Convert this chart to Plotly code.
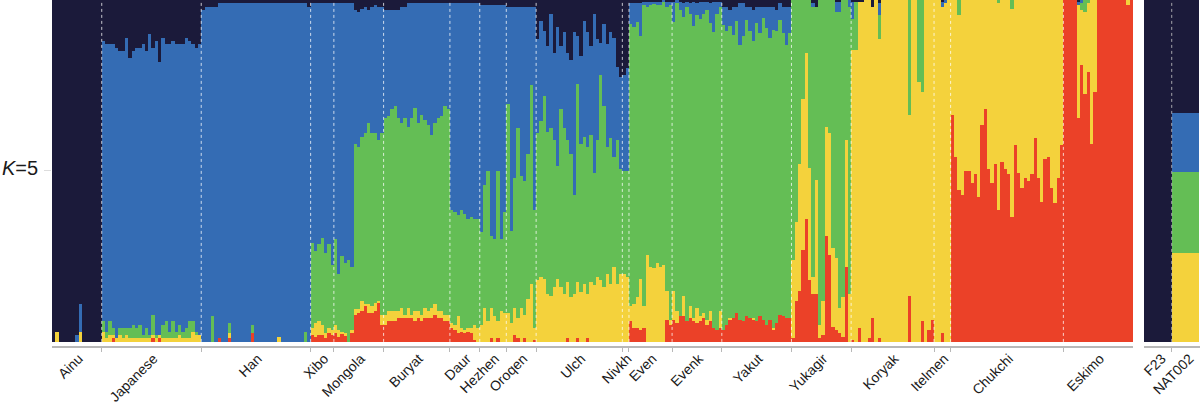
import numpy as np
import plotly.graph_objects as go

# ADMIXTURE K=5, one bar per individual, values in percent
POPS = ["Ainu", "Japanese", "Han", "Xibo", "Mongola", "Buryat", "Daur", "Hezhen",
        "Oroqen", "Ulch", "Nivkh", "Even", "Evenk", "Yakut", "Yukagir", "Koryak",
        "Itelmen", "Chukchi", "Eskimo"]
SIZES = [15, 30, 33, 7, 15, 20, 9, 8, 9, 26, 2, 13, 15, 21, 18, 25, 5, 34, 21]

RED = [
    [0, 0, 0, 0, 0, 0, 0, 0, 0, 0, 0, 0, 0, 0, 0],
    [0, 0, 0, 1, 0, 0, 0, 0, 0, 0, 0, 0, 0, 0, 0, 1, 0, 1, 0, 0, 0, 0, 0, 0, 0, 0, 0, 0, 0, 0],
    [0, 0, 0, 0, 0, 1, 0, 0, 1, 0, 0, 0, 0, 0, 0, 2.5, 0, 0, 0, 0, 0, 0, 0, 0, 0, 0, 0, 0, 0, 0, 0, 0, 0],
    [2, 1.5, 2, 2, 1, 2.5, 2],
    [2.5, 1.5, 2.5, 2, 0, 2.5, 8, 8.5, 9, 10.5, 8.5, 8.5, 9, 11.5, 5],
    [5, 6, 6, 6, 7, 7, 7, 7, 7, 6, 7, 6, 7, 7, 7, 8, 7, 7, 6, 6],
    [4, 3.5, 2.5, 3, 2.5, 3, 2.5, 0.5, 0],
    [0, 0, 0, 1, 0, 1, 0, 0],
    [0, 0, 2, 1, 0, 1, 0, 0, 0.5],
    [0, 0, 0, 0, 0, 0, 0, 0, 0, 1, 0, 0, 1, 0, 0, 1, 0, 0, 0, 0, 0, 0, 0, 0, 0, 0],
    [0, 0],
    [6, 4, 4, 3.5, 4, 0, 0, 0, 0, 0, 0, 6.5, 5],
    [6.5, 5.5, 7.5, 7.5, 6, 7, 6, 5.5, 6, 7, 5, 6, 4, 3.5, 4],
    [3.6, 5, 6.5, 7, 8.5, 6.5, 6, 7.5, 7, 6.5, 6, 7.5, 6.5, 5, 6.5, 3.6, 5.5, 8, 7.5, 7, 7],
    [1, 12, 15, 27, 36, 18, 14, 14, 1, 2, 31, 25.5, 4.5, 3.5, 2.5, 1.5, 22, 0],
    [0.5, 0, 4, 0, 0, 1, 7, 0, 1, 0, 0, 0, 0, 0, 0, 0, 0, 13.5, 0, 0, 0, 6, 0, 3.5, 6.5],
    [0, 0, 2.5, 0, 0],
    [66.5, 54, 44.5, 43, 50, 50, 46.5, 49, 42.5, 63.5, 68, 50.5, 46.5, 52, 38.5, 52.5, 50.5,
     49, 36.5, 57.5, 49.5, 45, 48, 47, 49, 59.5, 48, 41, 53.5, 54, 45, 40.5, 48, 57.5],
    [100, 100, 100, 100, 65.5, 81, 72.5, 79, 58, 73, 100, 100, 100, 100, 100, 100, 100, 100, 100, 98.5, 100],
]
YELLOW = [
    [0, 3, 0, 0, 0, 0, 0, 0, 3, 0, 0, 0, 0, 0, 0],
    [3, 1, 2, 1, 1, 2, 1, 2, 1, 1, 1, 1, 1, 1, 1, 1, 1, 1, 1, 1, 1, 1, 1, 2, 1, 1, 1, 3, 2, 2],
    [0, 0, 0, 0, 0, 0, 0, 0, 1.5, 0, 0, 0, 0, 0, 0, 0, 0, 0, 0, 0, 0, 0, 0, 1.3, 0, 0, 0, 0, 0, 0, 0, 0, 0],
    [2, 4, 4, 3, 1.5, 1.5, 1.5],
    [2.5, 2, 0.5, 0.5, 0, 1, 1.5, 1, 3, 0.5, 2.5, 2, 2.5, 0.5, 3],
    [3, 3, 3, 3, 2, 3, 1, 3, 1, 3, 2, 2, 3, 2, 3, 3, 2, 2, 2, 2],
    [1.5, 1.5, 5, 1, 1, 1, 1.5, 4.5, 4],
    [5, 10, 6, 9, 7.5, 5, 9, 8.5],
    [8.5, 5.5, 8, 6, 10, 7, 12.5, 17, 3.5],
    [18, 19, 18.5, 14, 13.5, 16, 18.5, 16, 14, 16.5, 13, 14, 16.5, 14.5, 17, 13, 17.5, 16.5,
     19, 18, 16, 20, 17, 22, 17, 20],
    [20, 19],
    [4.5, 7, 9, 15, 6.5, 25.5, 22, 21.5, 23, 22, 22.5, 8.5, 1.5],
    [8.5, 3.5, 0, 6, 0, 3.5, 1, 4.5, 1.5, 1.5, 1.5, 3, 0, 0, 5],
    [0, 0, 0.5, 0, 0, 0, 0, 0, 0, 0.5, 0, 0, 0, 0, 0, 0.5, 0, 0, 0, 0, 0],
    [23, 23, 37, 44, 48.5, 33, 5, 33.5, 4, 10, 32, 35.5, 23, 21, 7.5, 11.5, 37, 14],
    [85, 85.5, 95.5, 99.5, 100, 99, 91, 100, 87.5, 100, 100, 100, 100, 100, 100, 100, 100,
     53, 100, 100, 76, 67, 100, 96.5, 93.5],
    [100, 100, 95.5, 99, 100],
    [33.5, 46, 51, 57, 50, 50, 53.5, 51, 57.5, 36.5, 32, 49.5, 53.5, 48, 60.5, 47.5, 49.5,
     51, 61, 42.5, 50.5, 55, 52, 53, 51, 40.5, 52, 59, 46.5, 46, 55, 59.5, 52, 42.5],
    [0, 0, 0, 0, 33, 16, 24, 20, 42, 27, 0, 0, 0, 0, 0, 0, 0, 0, 0, 1.5, 0],
]
GREEN = [
    [0, 0, 0, 0, 0, 0, 0, 0, 0, 0, 0, 0, 0, 0, 0],
    [3, 2, 4, 2, 0, 2, 3, 2, 3, 4, 3, 4, 1, 3, 1, 6, 1, 0, 4, 5, 2, 5, 2, 3, 2, 3, 5, 3, 1, 0],
    [0, 0, 0, 7.5, 0, 0, 0, 0, 3, 0, 0, 0, 0, 0, 0, 2.5, 0, 0, 0, 0, 0, 0, 0, 0, 0, 0, 0, 0, 0, 0, 0, 3, 0],
    [25, 21, 22.5, 25.5, 23.5, 24.5, 19],
    [25, 16.5, 22, 20.5, 24, 18.5, 48.5, 47.5, 48, 50, 53, 50.5, 49.5, 47, 53],
    [57.5, 57, 59, 60, 56.5, 54, 57.5, 53, 57.5, 59.5, 55, 58.5, 55, 54.5, 50.5, 53, 56.5, 57, 61, 60],
    [33, 33, 29.5, 34.5, 34, 32, 32.5, 31, 32],
    [27, 36, 44, 21, 22.5, 44, 21, 29.5],
    [61, 27, 38, 55.5, 38.5, 39, 42.5, 58, 34.5],
    [43, 45.5, 53.5, 47.5, 49, 43, 33, 52, 48.5, 41.5, 42, 29, 58, 43.5, 43, 43, 43, 33,
     40, 60, 53, 37, 42.5, 32, 42, 30.5],
    [30, 31],
    [82.5, 81, 80.5, 71, 88, 72.5, 76.5, 77.5, 75.5, 76.5, 77, 83, 92],
    [78.5, 90, 89.5, 81.5, 92, 85.5, 85.5, 85.5, 87, 87.5, 90.5, 84.3, 86.5, 92.5, 89],
    [89.2, 85.8, 85.3, 82.9, 85.3, 80.4, 83.4, 86.7, 83.8, 80.9, 87.3, 82.9, 88.2, 86.8,
     82.4, 87.2, 85.3, 86.2, 82.9, 79.9, 83.4],
    [76, 65, 48, 29, 15.5, 49, 79, 50.5, 95, 88, 37, 39, 72.5, 72, 86.5, 87, 41, 84],
    [9, 14, 0, 0, 0, 0, 0, 0, 7, 0, 0, 0, 0, 0, 0, 0, 0, 33.5, 0, 0, 24, 27, 0, 0, 0],
    [0, 0, 0, 0, 0],
    [0, 0, 4.5, 0, 0, 0, 0, 0, 0, 0, 0, 0, 0, 0, 1, 0, 0, 0, 2.5, 0, 0, 0, 0, 0, 0, 0, 0,
     0, 0, 0, 0, 0, 0, 0],
    [0, 0, 0, 0, 0, 2, 3.5, 1, 0, 0, 0, 0, 0, 0, 0, 0, 0, 0, 0, 0, 0],
]
BLUE = [
    [0, 0, 0, 0, 0, 0, 0, 2, 8, 0, 0, 0, 0, 0, 0],
    [82, 84, 81, 83, 85, 81, 81, 85, 79, 80, 82, 81, 85, 81, 88, 78, 86, 80, 84, 81, 84, 82,
     84, 82, 84, 85, 82, 81, 83, 85],
    [97, 98, 98, 90.5, 98, 98, 99, 99, 93.5, 99, 99, 99, 99, 99, 99, 94, 99, 99, 99, 99, 99,
     99, 99, 97.7, 99, 99, 99, 99, 99, 99, 99, 96, 98],
    [70, 72.5, 70.5, 68.5, 73, 70.5, 76.5],
    [69, 79, 74, 76, 75, 77, 39, 39.5, 37.5, 37, 33, 37, 37.5, 39, 37],
    [31.5, 31, 29, 28, 31.5, 34, 32.5, 36, 33.5, 30.5, 35, 32.5, 34, 35.5, 38.5, 35, 33.5, 33, 30, 31],
    [60.5, 61, 62, 60.5, 61.5, 63, 62.5, 63, 63],
    [66.5, 52.5, 48.5, 67.5, 68.5, 48.5, 68.5, 60.5],
    [28.5, 65.5, 50, 35.5, 49.5, 51, 43, 23, 59.5],
    [27.5, 29.5, 19, 25, 33.5, 25.5, 40.5, 18.5, 28, 25.5, 27.5, 47.5, 14, 25.5, 34, 33.5,
     26, 46.5, 29.5, 9.5, 24, 30, 31, 35, 21.5, 27],
    [28, 30],
    [6, 7, 5.5, 9.5, 1, 1.5, 1, 0.5, 1, 1, 0.5, 1.5, 1],
    [6, 1, 2.5, 4, 1.5, 3, 7, 3.5, 5, 3.5, 2.5, 5.7, 9, 3.5, 1.5],
    [5.2, 7.2, 4.7, 8.1, 4.2, 12.1, 9.6, 3.8, 7.2, 9.1, 4.7, 7.6, 3.3, 6.2, 9.1, 6.7, 6.2,
     4.8, 7.6, 11.1, 7.6],
    [0, 0, 0, 0, 0, 0, 1, 0, 0, 0, 0, 0, 0, 3, 3, 0, 0, 2],
    [5, 0, 0, 0, 0, 0, 0, 0, 3.5, 0, 0, 0, 0, 0, 0, 0, 0, 0, 0, 0, 0, 0, 0, 0, 0],
    [0, 0, 1.5, 1, 0],
    [0, 0, 0, 0, 0, 0, 0, 0, 0, 0, 0, 0, 0, 0, 0, 0, 0, 0, 0, 0, 0, 0, 0, 0, 0, 0, 0, 0,
     0, 0, 0, 0, 0, 0],
    [0, 0, 0, 0, 1, 1, 0, 0, 0, 0, 0, 0, 0, 0, 0, 0, 0, 0, 0, 0, 0],
]
NAVY = [
    [100, 97, 100, 100, 100, 100, 100, 98, 89, 100, 100, 100, 100, 100, 100],
    [12, 13, 13, 13, 14, 15, 15, 11, 17, 15, 14, 14, 13, 15, 10, 14, 12, 18, 11, 13, 13, 12,
     13, 13, 13, 11, 12, 13, 14, 13],
    [3, 2, 2, 2, 2, 1, 1, 1, 1, 1, 1, 1, 1, 1, 1, 1, 1, 1, 1, 1, 1, 1, 1, 1, 1, 1, 1, 1, 1,
     1, 1, 1, 2],
    [1, 1, 1, 1, 1, 1, 1],
    [1, 1, 1, 1, 1, 1, 3, 3.5, 2.5, 2, 3, 2, 1.5, 2, 2],
    [3, 3, 3, 3, 3, 2, 2, 1, 1, 1, 1, 1, 1, 1, 1, 1, 1, 1, 1, 1],
    [1, 1, 1, 1, 1, 1, 1, 1, 1],
    [1.5, 1.5, 1.5, 1.5, 1.5, 1.5, 1.5, 1.5],
    [2, 2, 2, 2, 2, 2, 2, 2, 2],
    [11.5, 6, 9, 13.5, 4, 15.5, 8, 13.5, 9.5, 15.5, 17.5, 9.5, 10.5, 16.5, 6, 9.5, 13.5, 4,
     11.5, 12.5, 7, 13, 9.5, 11, 19.5, 22.5],
    [22, 20],
    [1, 1, 1, 1, 0.5, 0.5, 0.5, 0.5, 0.5, 0.5, 0, 0.5, 0.5],
    [0.5, 0, 0.5, 1, 0.5, 1, 0.5, 1, 0.5, 0.5, 0.5, 1, 0.5, 0.5, 0.5],
    [2, 2, 3, 2, 2, 1, 1, 2, 2, 3, 2, 2, 2, 2, 2, 2, 3, 1, 2, 2, 2],
    [0, 0, 0, 0, 0, 0, 1, 2, 0, 0, 0, 0, 0, 0.5, 0.5, 0, 0, 0],
    [0.5, 0.5, 0.5, 0.5, 0, 0, 2, 0, 1, 0, 0, 0, 0, 0, 0, 0, 0, 0, 0, 0, 0, 0, 0, 0, 0],
    [0, 0, 0.5, 0, 0],
    [0, 0, 0, 0, 0, 0, 0, 0, 0, 0, 0, 0, 0, 0, 0, 0, 0, 0, 0, 0, 0, 0, 0, 0, 0, 0, 0, 0,
     0, 0, 0, 0, 0, 0],
    [0, 0, 0, 0, 0.5, 0, 0, 0, 0, 0, 0, 0, 0, 0, 0, 0, 0, 0, 0, 0, 0],
]

# reference individuals shown in the side panel
REF_NAMES = ["F23", "NAT002"]
REF_RED = [0, 0]
REF_YELLOW = [0, 26]
REF_GREEN = [0, 23.7]
REF_BLUE = [0, 17.3]
REF_NAVY = [100, 33]

COLORS = ["#eb4128", "#f4d23c", "#64be55", "#346cb4", "#1b1a3a"]  # red, yellow, green, blue, navy

comps = [RED, YELLOW, GREEN, BLUE, NAVY]
for comp in comps:
    for pop, n, row in zip(POPS, SIZES, comp):
        assert len(row) == n, (pop, n, len(row))

q = np.array([np.concatenate([np.asarray(r, float) for r in comp]) for comp in comps])
q = q / q.sum(axis=0) * 100
qref = np.array([REF_RED, REF_YELLOW, REF_GREEN, REF_BLUE, REF_NAVY], float)
qref = qref / qref.sum(axis=0) * 100

x = np.arange(q.shape[1])
starts = np.concatenate([[0], np.cumsum(SIZES)])
centers = starts[:-1] + (np.array(SIZES) - 1) / 2
bounds = starts[1:-1] - 0.5

fig = go.Figure()
for k in range(5):
    fig.add_trace(go.Bar(x=x, y=q[k], marker=dict(color=COLORS[k], line=dict(width=0)),
                         xaxis="x", yaxis="y", showlegend=False))
    fig.add_trace(go.Bar(x=[0, 1], y=qref[k], marker=dict(color=COLORS[k], line=dict(width=0)),
                         xaxis="x2", yaxis="y2", showlegend=False))

# dotted separators between populations
for b in bounds:
    fig.add_shape(type="line", xref="x", yref="y", x0=b, x1=b, y0=0, y1=100,
                  line=dict(color="rgba(255,255,255,0.75)", width=1, dash="dot"), layer="above")
fig.add_shape(type="line", xref="x2", yref="y2", x0=0.5, x1=0.5, y0=0, y1=100,
              line=dict(color="rgba(200,200,200,0.8)", width=1, dash="dot"), layer="above")

tickfont = dict(family="Arial, Liberation Sans, sans-serif", size=14, color="#1a1a1a")
split = 1081 / 1148
fig.update_layout(
    width=1200, height=407,
    margin=dict(l=52, r=0, t=0, b=61),
    paper_bgcolor="white", plot_bgcolor="white",
    barmode="stack", bargap=0,
    xaxis=dict(domain=[0, split], range=[-0.5, len(x) - 0.5],
               tickmode="array", tickvals=centers, ticktext=POPS, tickangle=-45,
               tickfont=tickfont, ticks="", showgrid=False, zeroline=False,
               ticklabelshift=2, ticklabelstandoff=-3, automargin=False,
               showline=True, linecolor="#b8b8b8", linewidth=2,
               minor=dict(tickvals=bounds, ticks="outside", ticklen=4, tickcolor="#b8b8b8")),
    yaxis=dict(range=[-1.2, 100], showgrid=False, zeroline=False, showticklabels=False,
               tickvals=[50], ticks="outside", ticklen=7, tickcolor="#dddddd"),
    xaxis2=dict(domain=[1092 / 1148, 1], range=[-0.5, 1.52], anchor="y2",
                tickmode="array", tickvals=[0, 1], ticktext=REF_NAMES, tickangle=-45,
                tickfont=tickfont, ticks="", showgrid=False, zeroline=False,
                ticklabelshift=4, ticklabelstandoff=-3, automargin=False,
                showline=True, linecolor="#b8b8b8", linewidth=2,
                minor=dict(tickvals=[0.5], ticks="outside", ticklen=4, tickcolor="#b8b8b8")),
    yaxis2=dict(range=[-1.2, 100], anchor="x2", showgrid=False, zeroline=False,
                showticklabels=False),
    annotations=[dict(text="<i>K</i>=5", xref="paper", yref="y", x=0, y=51,
                      xanchor="right", yanchor="middle", xshift=-12, showarrow=False,
                      font=dict(family="Arial, Liberation Sans, sans-serif", size=20, color="#1a1a1a"))],
)

# the page body has a default 8px margin; drop it so the figure fills the window
fig.write_html("out.html", config={"displayModeBar": False},
               post_script="document.body.style.margin='0';")
